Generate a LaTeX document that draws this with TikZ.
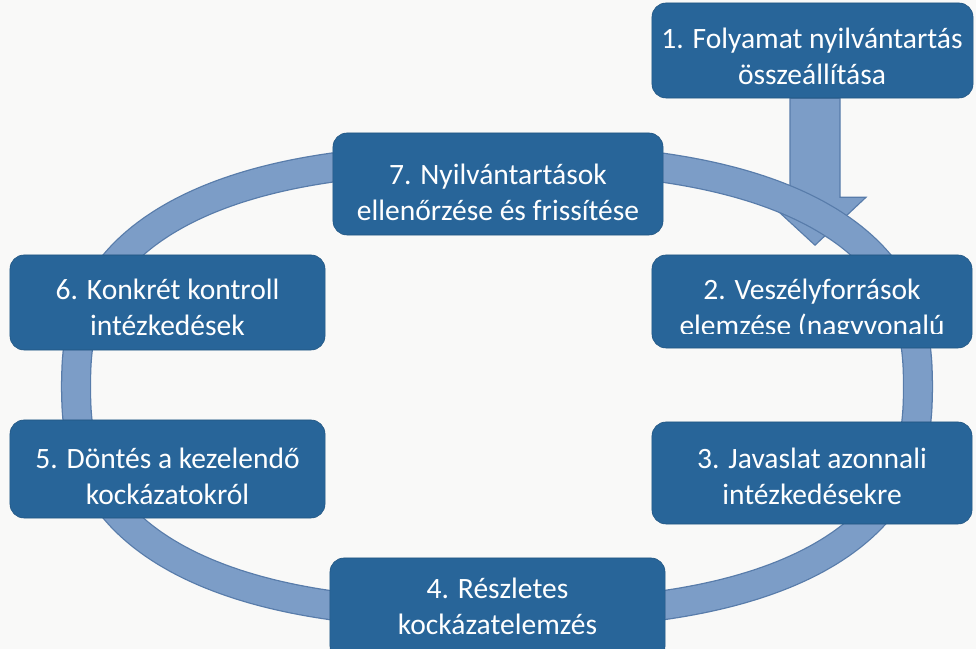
\documentclass[tikz,border=0pt]{standalone}
\usepackage{fontspec}
\setmainfont{Carlito}
\usepackage{xcolor}
\usetikzlibrary{positioning, calc}

\definecolor{paper}{RGB}{249,249,248}
\definecolor{boxblue}{RGB}{40,101,153}
\definecolor{ringfill}{RGB}{124,157,199}
\definecolor{ringedge}{RGB}{88,124,170}

\begin{document}
\begin{tikzpicture}[
            x=0.025cm, y=0.025cm,
            stepbox/.style={rectangle, rounded corners=0.35cm, fill=boxblue, draw=boxblue!85!black, line width=0.4pt, inner sep=0pt},
            steptext/.style={align=center, text=white, inner sep=0pt, font=\fontsize{21}{25.5}\selectfont},
        ]
            \fill[paper] (0,0) rectangle (976,649);
            \useasboundingbox (0,0) rectangle (976,649);

            % nodes first, drawn again later on top
            \path (812.5,598.5) node[minimum width=8.025cm, minimum height=2.375cm] (s1) {}
                  (812,347.5) node[minimum width=8cm, minimum height=2.325cm] (s2) {};

            % arrow 1 -> 2
            \draw[ringedge, fill=ringfill, line width=0.8pt]
                ($(s1.south)+(-22.5,0)$) -- ++(0,-99) -- ++(-27,0)
                -- ($(s2.north)+(3,9.5)$)
                -- ($(s1.south)+(53.5,-99)$) -- ++(-26,0) -- ($(s1.south)+(27.5,0)$) -- cycle;

            % ring
            \draw[ringedge, line width=0.9pt, double=ringfill, double distance=19.6pt]
                plot[domain=0:357, samples=120, smooth cycle]
                ({497+421*cos(\x)*pow(abs(cos(\x))+0.001,-0.2)}, {262.5+228*sin(\x)*pow(abs(sin(\x))+0.001,-0.2)});

            % boxes
            \node[stepbox, minimum width=8.25cm, minimum height=2.55cm] (s7) at (498,465) {};
            \node[stepbox, minimum width=7.875cm, minimum height=2.375cm] (s6) at (167.5,346.5) {};
            \node[stepbox, minimum width=7.875cm, minimum height=2.45cm] (s5) at (167.5,180) {};
            \node[stepbox, minimum width=8.375cm, minimum height=2.55cm] (s4) at (497.5,40) {};
            \node[stepbox, minimum width=8cm, minimum height=2.55cm] (s3) at (812,176) {};
            \node[stepbox, minimum width=8cm, minimum height=2.325cm] at (s2) {};
            \node[stepbox, minimum width=8.025cm, minimum height=2.375cm] at (s1) {};

            % texts
            \begin{scope}
                \clip (640,562) rectangle (976,649);
                \node[steptext] (t1) at (812,592.5) {1. Folyamat nyilvántartás\\összeállítása};
            \end{scope}
            \begin{scope}
                \clip (640,315) rectangle (976,400);
                \node[steptext] (t2) at (812,339) {2. Veszélyforrások\\elemzése (nagyvonalú};
            \end{scope}
            \node[steptext] (t3) at (812,172.5) {3. Javaslat azonnali\\intézkedésekre};
            \begin{scope}
                \clip (320,12) rectangle (680,100);
                \node[steptext] (t4) at (497.5,42.5) {4. Részletes\\kockázatelemzés};
            \end{scope}
            \node[steptext] (t5) at (167.5,172.5) {5. Döntés a kezelendő\\kockázatokról};
            \node[steptext] (t6) at (167.5,341.5) {6. Konkrét kontroll\\intézkedések};
            \node[steptext] (t7) at (498,456.5) {7. Nyilvántartások\\ellenőrzése és frissítése};
        \end{tikzpicture}
\end{document}
